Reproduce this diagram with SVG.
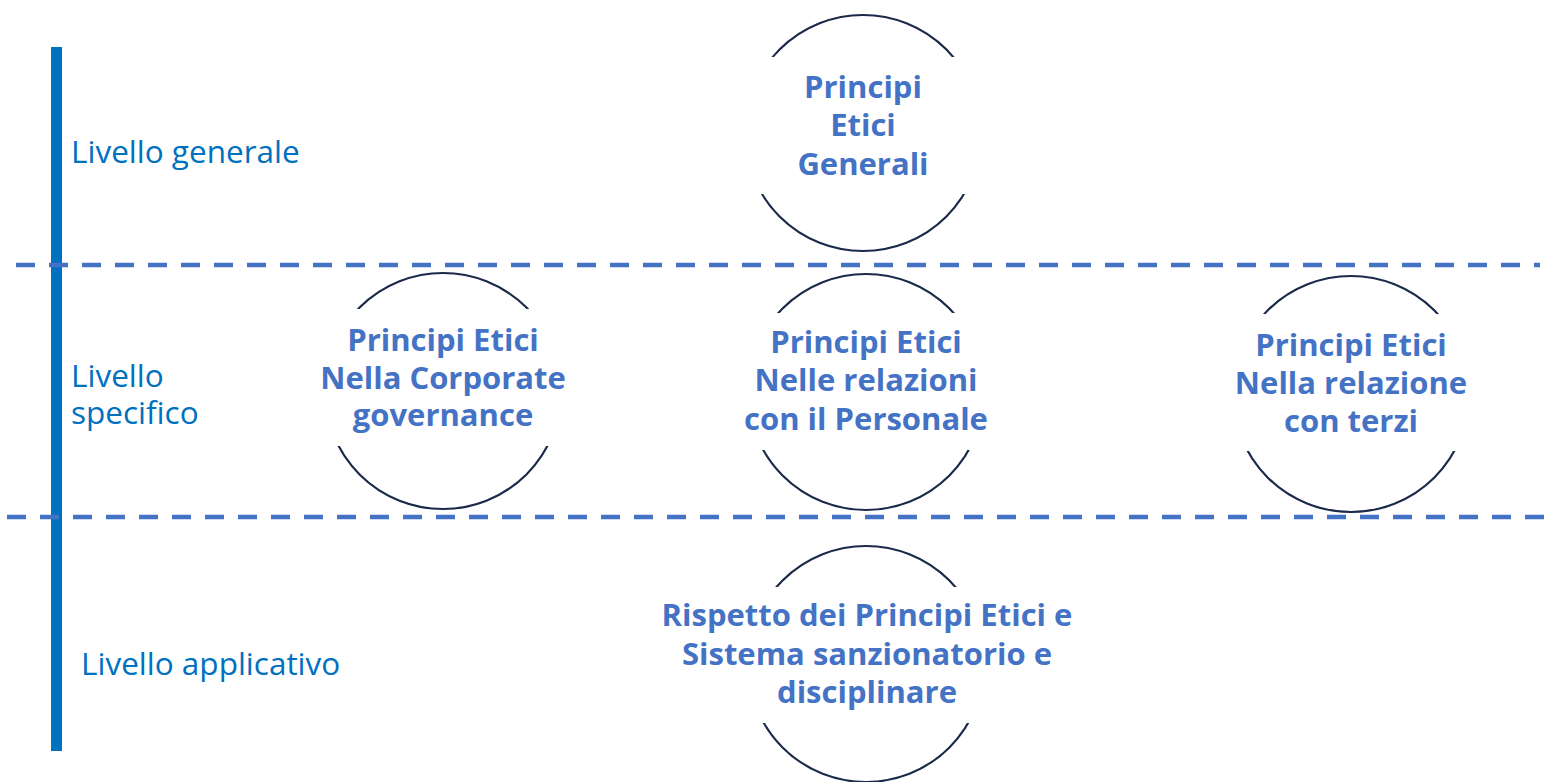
<svg xmlns="http://www.w3.org/2000/svg" width="1546" height="782" viewBox="0 0 1546 782">
<style>
.ring{fill:none;stroke:#1B2A4A;stroke-width:2.2}
.t{font-family:"Open Sans","Liberation Sans",sans-serif;font-weight:bold;font-size:31px;fill:#4472C4;text-anchor:middle}
.lab{font-family:"Open Sans","Liberation Sans",sans-serif;font-size:31.5px;fill:#0070C0}
.dash{stroke:#4472C4;stroke-width:4.5;stroke-dasharray:19 14;fill:none}
</style>
<defs>
<clipPath id="c1"><rect x="0" y="0" width="1546" height="57"/><rect x="0" y="194" width="1546" height="200"/></clipPath>
<clipPath id="c2"><rect x="0" y="200" width="1546" height="109"/><rect x="0" y="446" width="1546" height="100"/></clipPath>
<clipPath id="c3"><rect x="0" y="200" width="1546" height="113"/><rect x="0" y="450" width="1546" height="100"/></clipPath>
<clipPath id="c4"><rect x="0" y="200" width="1546" height="114"/><rect x="0" y="451" width="1546" height="100"/></clipPath>
<clipPath id="c5"><rect x="0" y="500" width="1546" height="87"/><rect x="0" y="723" width="1546" height="100"/></clipPath>
</defs>
<g id="axis"><rect x="51" y="47" width="11" height="704" fill="#0070C0"/></g>
<g id="separators">
<line class="dash" x1="16" y1="265" x2="1540" y2="265"/>
<line class="dash" x1="7" y1="517" x2="1546" y2="517"/>
</g>
<g id="labels">
<text class="lab" x="71" y="163">Livello generale</text>
<text class="lab" x="71" y="387">Livello</text>
<text class="lab" x="71" y="424">specifico</text>
<text class="lab" x="81" y="675">Livello applicativo</text>
</g>
<g id="n-generali">
<circle class="ring" cx="863" cy="133" r="118" clip-path="url(#c1)"/>
<text class="t" x="863" y="98">Principi</text>
<text class="t" x="863" y="136">Etici</text>
<text class="t" x="863" y="175">Generali</text>
</g>
<g id="n-corporate">
<circle class="ring" cx="443" cy="391" r="118" clip-path="url(#c2)"/>
<text class="t" x="443" y="351">Principi Etici</text>
<text class="t" x="443" y="389">Nella Corporate</text>
<text class="t" x="443" y="426">governance</text>
</g>
<g id="n-personale">
<circle class="ring" cx="866" cy="392" r="118" clip-path="url(#c3)"/>
<text class="t" x="866" y="353">Principi Etici</text>
<text class="t" x="866" y="391">Nelle relazioni</text>
<text class="t" x="866" y="430">con il Personale</text>
</g>
<g id="n-terzi">
<circle class="ring" cx="1351" cy="394" r="118" clip-path="url(#c4)"/>
<text class="t" x="1351" y="356">Principi Etici</text>
<text class="t" x="1351" y="394">Nella relazione</text>
<text class="t" x="1351" y="432">con terzi</text>
</g>
<g id="n-applicativo">
<circle class="ring" cx="866" cy="664" r="118" clip-path="url(#c5)"/>
<text class="t" x="867" y="626">Rispetto dei Principi Etici e</text>
<text class="t" x="867" y="665">Sistema sanzionatorio e</text>
<text class="t" x="867" y="703">disciplinare</text>
</g>
</svg>
